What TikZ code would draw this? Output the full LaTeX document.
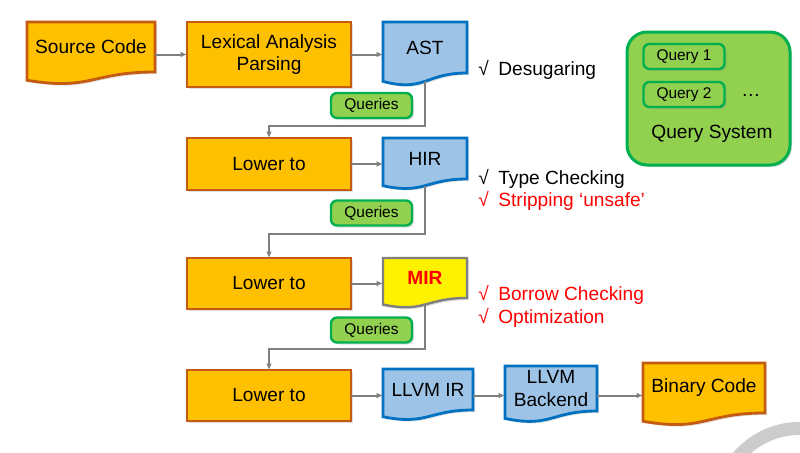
\documentclass[tikz,border=0pt]{standalone}
\usepackage{fontspec}
\setmainfont{Liberation Sans}
\usetikzlibrary{arrows.meta, positioning, calc, shadows}
\pgfdeclarelayer{background}
\pgfsetlayers{background,main}

\definecolor{boxorange}{HTML}{FFC000}
\definecolor{edgeorange}{HTML}{C55A11}
\definecolor{boxblue}{HTML}{9DC3E6}
\definecolor{edgeblue}{HTML}{0070C0}
\definecolor{boxgreen}{HTML}{92D050}
\definecolor{edgegreen}{HTML}{00B050}
\definecolor{linegray}{HTML}{7F7F7F}
\definecolor{notered}{HTML}{FF0000}

% document outline with a wavy bottom, drawn behind the named node
\newcommand{\docpath}[2]{%
  \begin{pgfonlayer}{background}
    \draw[#2] (#1.north west) -- (#1.north east) -- (#1.south east)
      .. controls (#1.south) and ($(#1.north)!1.38!(#1.south)$)
      .. ($(#1.north west)!1.165!(#1.south west)$) -- cycle;
  \end{pgfonlayer}}

\tikzset{
  base/.style={font=\fontsize{13.6}{16}\selectfont, align=center, inner sep=0pt, outer sep=0pt, anchor=north west},
  softshadow/.style={drop shadow={shadow xshift=0.5mm, shadow yshift=-0.5mm, opacity=0.25}},
  stage/.style={base, draw=edgeorange, fill=boxorange, line width=0.7mm, minimum width=41mm, minimum height=13mm, softshadow},
  doc/.style={base, minimum width=21mm},
  orangedoc/.style={draw=edgeorange, fill=boxorange, line width=0.7mm, softshadow},
  bluedoc/.style={draw=edgeblue, fill=boxblue, line width=0.7mm, softshadow},
  yellowdoc/.style={draw=linegray, fill=yellow, line width=0.6mm, softshadow},
  query/.style={draw=edgegreen, fill=boxgreen, line width=0.6mm, rounded corners=1.5mm, minimum width=20.25mm, minimum height=6.25mm, inner sep=0pt, font=\fontsize{11}{13}\selectfont, softshadow},
  flow/.style={->, draw=linegray, line width=0.5mm},
  note/.style={anchor=west, align=left, inner sep=0pt, font=\fontsize{13.6}{16}\selectfont},
}

\begin{document}
\begin{tikzpicture}[x=0.25mm, y=-0.25mm, >={Latex[length=1.6mm, width=1.4mm]}]
    \useasboundingbox (0,0) rectangle (800,452);
    \begin{scope}
        \clip (0,0) rectangle (800,452);
        \draw[black!20, line width=3.25mm] (800,510) circle[radius=20.4mm];
    \end{scope}

    % pipeline
    \node[doc, minimum width=32mm, minimum height=12.5mm] (src) at (27,22) {Source Code};
    \node[stage, minimum height=16.25mm] (lex) at (187,22) {Lexical Analysis\\Parsing};
    \node[doc, minimum height=12.75mm] (ast) at (383,22) {AST};
    \node[stage] (low1) at (187,138) {Lower to};
    \node[doc, minimum height=10.25mm] (hir) at (383,138) {HIR};
    \node[stage, minimum height=12.75mm] (low2) at (187,258) {Lower to};
    \node[doc, minimum height=10mm, text=notered, font=\fontsize{13.6}{16}\selectfont\bfseries] (mir) at (383,258) {MIR};
    \node[stage, minimum height=12.75mm] (low3) at (187,370) {Lower to};
    \node[doc, minimum width=22.5mm, minimum height=10.25mm] (llvmir) at (383,369) {LLVM IR};
    \node[doc, minimum width=23mm, minimum height=11.25mm] (backend) at (505,366) {LLVM\\Backend};
    \node[doc, minimum width=30.5mm, minimum height=12.5mm] (binary) at (643,363) {Binary Code};

    \docpath{src}{orangedoc}
    \docpath{ast}{bluedoc}
    \docpath{hir}{bluedoc}
    \docpath{mir}{yellowdoc}
    \docpath{llvmir}{bluedoc}
    \docpath{backend}{bluedoc}
    \docpath{binary}{orangedoc}

    \node[query] (q1) at (371.5,105.5) {Queries};
    \node[query] (q2) at (371.5,213) {Queries};
    \node[query] (q3) at (371.5,330) {Queries};

    % notes
    \node[note] (astnote) at (478,70) {√\enspace Desugaring};
    \node[note] (hirnote) at (478,190) {√\enspace Type Checking\\\textcolor{notered}{√\enspace Stripping ‘unsafe’}};
    \node[note, text=notered] (mirnote) at (478,306.5) {√\enspace Borrow Checking\\√\enspace Optimization};

    % query system
    \node[base, draw=edgegreen, fill=boxgreen, line width=0.75mm, rounded corners=5mm, minimum width=40.75mm, minimum height=33.25mm, softshadow] (qsys) at (627,32) {};
    \node[query] (qa) at (684,56.5) {Query 1};
    \node[query] (qb) at (684,94.5) {Query 2};
    \node[font=\fontsize{13.6}{16}\selectfont] (more) at (751,95) {\ldots};
    \node[font=\fontsize{13.6}{16}\selectfont] (qsyslabel) at (712,134) {Query System};

    % connectors
    \draw[flow] (src.east |- lex) -- (lex.west);
    \draw[flow] (lex.east) -- (lex.east -| ast.west);
    \draw[flow] (low1.east) -- (low1.east -| hir.west);
    \draw[flow] (low2.east) -- (low2.east -| mir.west);
    \draw[flow] (low3.east) -- (low3.east -| llvmir.west);
    \draw[flow] (low3.east -| llvmir.east) -- (low3.east -| backend.west);
    \draw[flow] (low3.east -| backend.east) -- (low3.east -| binary.west);
    \draw[flow] ($(ast.north)!1.163!(ast.south)$) |- ([yshift=3mm]low1.north) -- (low1.north);
    \draw[flow] ($(hir.north)!1.163!(hir.south)$) |- ([yshift=6mm]low2.north) -- (low2.north);
    \draw[flow] ($(mir.north)!1.163!(mir.south)$) |- ([yshift=5.25mm]low3.north) -- (low3.north);
\end{tikzpicture}
\end{document}
